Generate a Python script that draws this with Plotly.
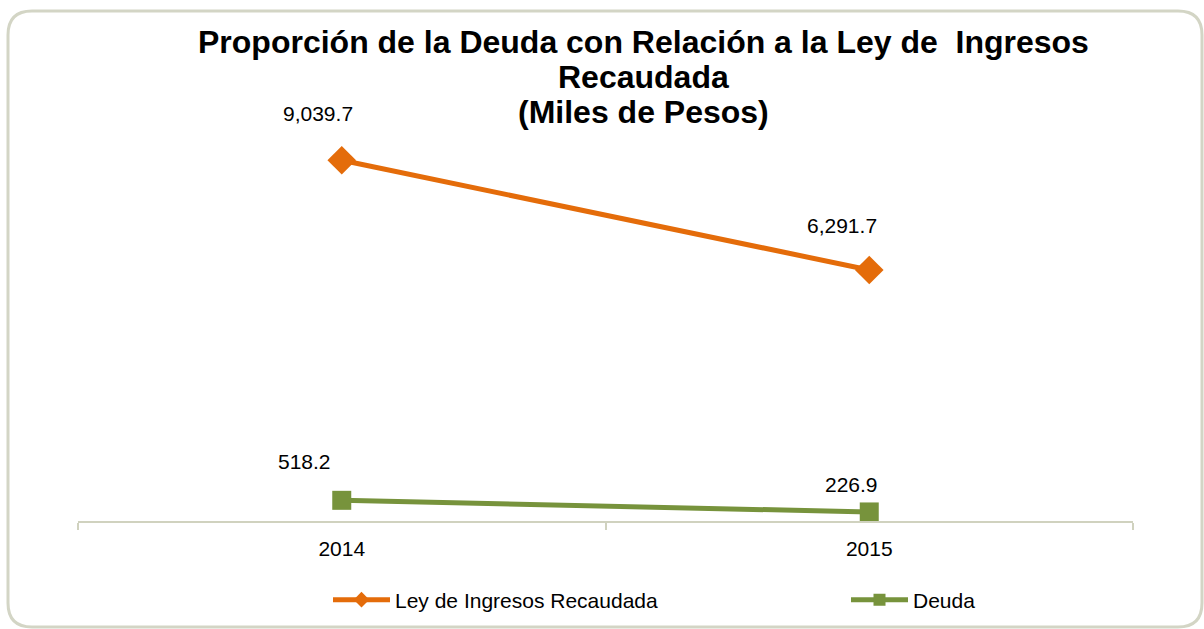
import plotly.graph_objects as go

years = ["2014", "2015"]
ley_ingresos = [9039.7, 6291.7]
deuda = [518.2, 226.9]
ley_labels = ["9,039.7", "6,291.7"]
deuda_labels = ["518.2", "226.9"]
title_lines = ["Proporción de la Deuda con Relación a la Ley de  Ingresos",
               "Recaudada", "(Miles de Pesos)"]

ORANGE = "#E46C0A"
GREEN = "#77933C"
GRID = "#D0D2BF"
FONT = "Liberation Sans, Arial, sans-serif"

W, H = 1204, 629
L, R, T, B = 78, 71, 122, 108

pw, ph = W - L - R, H - T - B
def px(x):
    return (x - L) / pw
def py(y):
    return (H - B - y) / ph

fig = go.Figure()
fig.add_trace(go.Scatter(
    x=years, y=ley_ingresos, mode="lines+markers", name="Ley de Ingresos Recaudada",
    line=dict(color=ORANGE, width=5),
    marker=dict(symbol="diamond", size=22, color=ORANGE),
    legend="legend",
))
fig.add_trace(go.Scatter(
    x=years, y=deuda, mode="lines+markers", name="Deuda",
    line=dict(color=GREEN, width=5),
    marker=dict(symbol="square", size=19, color=GREEN),
    legend="legend2",
))

# data labels (x given as category index)
ley_shift = [(-24, 47), (-27, 44)]
deuda_shift = [(-37, 39), (-18, 27)]
for ys, labs, shifts in [(ley_ingresos, ley_labels, ley_shift),
                         (deuda, deuda_labels, deuda_shift)]:
    for i, (yv, lab, (dx, dy)) in enumerate(zip(ys, labs, shifts)):
        fig.add_annotation(x=i, y=yv, xref="x", yref="y", text=lab, showarrow=False,
                           xshift=dx, yshift=dy,
                           font=dict(family=FONT, size=21, color="#000000"))

# title lines
title_y = [42, 77, 112]
for txt, ty in zip(title_lines, title_y):
    fig.add_annotation(x=px(643), y=py(ty), xref="paper", yref="paper",
                       xanchor="center", yanchor="middle", showarrow=False,
                       text=f"<b>{txt}</b>",
                       font=dict(family=FONT, size=32, color="#000000"))

# rounded frame (pixel -> paper coordinates)
x0, y0, x1, y1, r = 8, 11, 1202, 627, 24
path = (f"M {px(x0+r)},{py(y0)} L {px(x1-r)},{py(y0)} Q {px(x1)},{py(y0)} {px(x1)},{py(y0+r)} "
        f"L {px(x1)},{py(y1-r)} Q {px(x1)},{py(y1)} {px(x1-r)},{py(y1)} "
        f"L {px(x0+r)},{py(y1)} Q {px(x0)},{py(y1)} {px(x0)},{py(y1-r)} "
        f"L {px(x0)},{py(y0+r)} Q {px(x0)},{py(y0)} {px(x0+r)},{py(y0)} Z")
fig.add_shape(type="path", path=path, xref="paper", yref="paper",
              line=dict(color="#D3D5C5", width=3), layer="below")

legend_style = dict(
    orientation="h", yanchor="middle", xanchor="left",
    xref="paper", yref="paper",
    font=dict(family=FONT, size=21, color="#000000"),
    itemwidth=57, itemsizing="constant", bgcolor="rgba(0,0,0,0)",
)

fig.update_layout(
    width=W, height=H,
    margin=dict(l=L, r=R, t=T, b=B, autoexpand=False),
    paper_bgcolor="white", plot_bgcolor="white",
    font=dict(family=FONT, size=21, color="#000000"),
    showlegend=True,
    legend=dict(x=px(328), y=py(600), **legend_style),
    legend2=dict(x=px(846), y=py(600), **legend_style),
    xaxis=dict(
        type="category", range=[-0.5, 1.5], showgrid=False,
        showline=True, linecolor=GRID, linewidth=2,
        ticks="outside", tickson="boundaries", ticklen=7, tickcolor=GRID, tickwidth=2,
        ticklabelstandoff=8,
        tickfont=dict(family=FONT, size=21, color="#000000"),
        fixedrange=True,
    ),
    yaxis=dict(
        range=[0, 10000], showgrid=False, zeroline=False, showline=False,
        showticklabels=False, ticks="", fixedrange=True,
    ),
)

fig.write_html("out.html", post_script="document.body.style.margin='0';", config={"displayModeBar": False})
